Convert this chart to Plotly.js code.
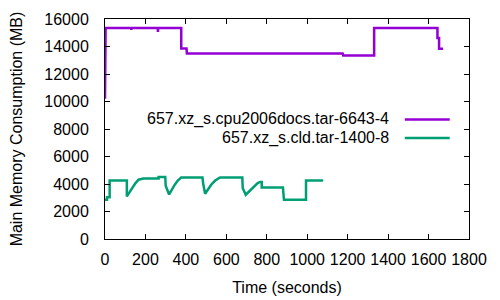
<!DOCTYPE html>
<html>
<head>
<meta charset="utf-8">
<script src="https://cdn.plot.ly/plotly-3.0.1.min.js"></script>
<style>html,body{margin:0;padding:0;background:#fff;}#chart{width:500px;height:300px;}</style>
</head>
<body>
<div id="chart"></div>
<script>
// Series 1: 657.xz_s.cpu2006docs.tar-6643-4
const name1 = "657.xz_s.cpu2006docs.tar-6643-4";
const t1 = [0, 0, 3, 3, 129, 130, 131, 261, 262, 263, 377, 377, 403, 403, 405, 405, 1175, 1178, 1331, 1331, 1644, 1644, 1652, 1652, 1672];
const v1 = [10200, 11800, 11800, 15350, 15350, 15200, 15350, 15350, 15050, 15350, 15350, 13860, 13860, 13700, 13700, 13500, 13500, 13350, 13350, 15350, 15350, 14620, 14620, 13840, 13840];

// Series 2: 657.xz_s.cld.tar-1400-8
const name2 = "657.xz_s.cld.tar-1400-8";
const t2 = [0, 10, 10, 23, 23, 108, 108, 120, 135, 150, 166, 190, 265, 265, 298, 300, 317, 330, 345, 360, 377, 482, 485, 495, 510, 525, 545, 569, 679, 681, 696, 715, 735, 755, 767, 775, 775, 880, 882, 885, 994, 994, 1079];
const v2 = [2860, 2860, 3030, 3030, 4260, 4260, 3100, 3400, 3750, 4050, 4310, 4400, 4400, 4510, 4510, 3880, 3240, 3600, 3950, 4250, 4480, 4480, 4070, 3290, 3650, 3950, 4250, 4480, 4480, 3710, 3220, 3500, 3800, 4070, 4150, 4150, 3750, 3750, 3350, 2860, 2860, 4260, 4260];

const xTicks = [0, 200, 400, 600, 800, 1000, 1200, 1400, 1600, 1800];
const yTicks = [0, 2000, 4000, 6000, 8000, 10000, 12000, 14000, 16000];

const color1 = "#9400d3";
const color2 = "#009e73";
const font = {family: "Liberation Sans, Arial, sans-serif", size: 16, color: "#000"};

const traces = [
  {x: t1, y: v1, type: "scatter", mode: "lines", name: name1, line: {color: color1, width: 2.5}},
  {x: t2, y: v2, type: "scatter", mode: "lines", name: name2, line: {color: color2, width: 2.5}}
];

const legY = [0.5436, 0.459];
const layout = {
  width: 500, height: 300,
  margin: {l: 104.7, r: 30.7, t: 19.3, b: 60.7},
  paper_bgcolor: "#fff", plot_bgcolor: "#fff",
  font: font,
  showlegend: false,
  xaxis: {
    range: [0, 1800], tickvals: xTicks, ticktext: xTicks.map(String),
    ticks: "inside", ticklen: 5, tickwidth: 1, tickcolor: "#000",
    showline: true, linecolor: "#000", linewidth: 1, mirror: "allticks",
    showgrid: false, zeroline: false, ticklabelstandoff: 6,
    title: {text: "Time (seconds)", font: font, standoff: 14}
  },
  yaxis: {
    range: [0, 16000], tickvals: yTicks, ticktext: yTicks.map(String),
    ticks: "inside", ticklen: 5, tickwidth: 1, tickcolor: "#000",
    showline: true, linecolor: "#000", linewidth: 1, mirror: "allticks",
    showgrid: false, zeroline: false, ticklabelstandoff: 12,
    title: {text: "Main Memory Consumption (MB)", font: font, standoff: 17}
  },
  annotations: [
    {xref: "paper", yref: "paper", x: 0.7844, y: legY[0], xanchor: "right", yanchor: "middle", text: name1, showarrow: false, font: font},
    {xref: "paper", yref: "paper", x: 0.7844, y: legY[1], xanchor: "right", yanchor: "middle", text: name2, showarrow: false, font: font}
  ],
  shapes: [
    {type: "line", xref: "paper", yref: "paper", x0: 0.8236, x1: 0.947, y0: legY[0], y1: legY[0], line: {color: color1, width: 2.5}},
    {type: "line", xref: "paper", yref: "paper", x0: 0.8236, x1: 0.947, y0: legY[1], y1: legY[1], line: {color: color2, width: 2.5}}
  ]
};

Plotly.newPlot("chart", traces, layout, {staticPlot: true, displayModeBar: false});
</script>
</body>
</html>
